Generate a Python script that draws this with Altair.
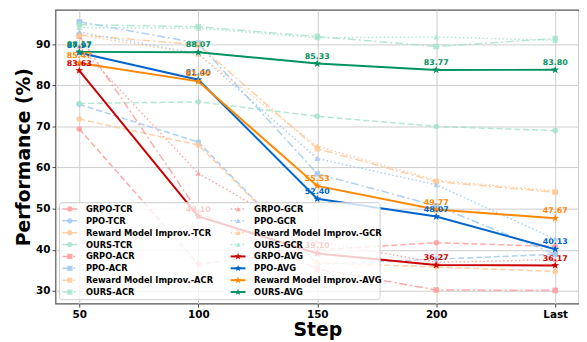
import math
import altair as alt
import pandas as pd

steps = ["50", "100", "150", "200", "Last"]
methods = ["GRPO", "PPO", "Reward Model Improv.", "OURS"]
metrics = ["TCR", "ACR", "GCR", "AVG"]

grpo_tcr = [69.4, 36.5, 40.0, 41.7, 40.8]
grpo_acr = [92.0, 49.2, 35.3, 30.2, 30.1]
grpo_gcr = [89.5, 58.6, 42.0, 36.9, 37.6]
grpo_avg = [83.63, 48.10, 39.10, 36.27, 36.17]

ppo_tcr = [75.4, 66.2, 36.5, 37.7, 38.9]
ppo_acr = [95.5, 90.3, 58.5, 50.7, 38.9]
ppo_gcr = [93.0, 87.7, 62.2, 55.8, 42.6]
ppo_avg = [87.97, 81.40, 52.40, 48.07, 40.13]

rm_tcr = [71.8, 65.5, 36.8, 35.8, 34.7]
rm_acr = [92.3, 89.9, 64.6, 56.6, 54.0]
rm_gcr = [92.3, 87.6, 65.2, 56.9, 54.3]
rm_avg = [85.47, 81.00, 55.53, 49.77, 47.67]

ours_tcr = [75.6, 76.0, 72.5, 70.0, 69.0]
ours_acr = [94.8, 94.3, 91.9, 89.5, 91.4]
ours_gcr = [94.1, 93.9, 91.6, 91.8, 91.0]
ours_avg = [88.17, 88.07, 85.33, 83.77, 83.80]

values = {
    "GRPO": {"TCR": grpo_tcr, "ACR": grpo_acr, "GCR": grpo_gcr, "AVG": grpo_avg},
    "PPO": {"TCR": ppo_tcr, "ACR": ppo_acr, "GCR": ppo_gcr, "AVG": ppo_avg},
    "Reward Model Improv.": {"TCR": rm_tcr, "ACR": rm_acr, "GCR": rm_gcr, "AVG": rm_avg},
    "OURS": {"TCR": ours_tcr, "ACR": ours_acr, "GCR": ours_gcr, "AVG": ours_avg},
}

# five-point star symbol as an SVG path in the unit box
_pts = []
for j in range(10):
    ang = math.radians(-90 + 36 * j)
    r = 1.0 if j % 2 == 0 else 0.4
    _pts.append(f"{r * math.cos(ang):.3f},{r * math.sin(ang):.3f}")
STAR = "M" + "L".join(_pts) + "Z"

light_colors = {"GRPO": "#ff9a9a", "PPO": "#9fc8f2", "Reward Model Improv.": "#ffc896", "OURS": "#a6e3cb"}
dark_colors = {"GRPO": "#cc0000", "PPO": "#0066cc", "Reward Model Improv.": "#ff8800", "OURS": "#00935f"}
dash_by_metric = {"TCR": [6, 3], "ACR": [8, 3, 2, 3], "GCR": [1.5, 2.5]}
shape_by_metric = {"TCR": "circle", "ACR": "square", "GCR": "triangle-up", "AVG": STAR}

series_order = [f"{m}-{k}" for k in metrics for m in methods]
color_range = [dark_colors[m] if k == "AVG" else light_colors[m] for k in metrics for m in methods]
shape_range = [shape_by_metric[k] for k in metrics for m in methods]

FONT = "DejaVu Sans"
W, H = 529, 297
XD = [-0.2, 4.2]
YD = [26.87, 98.43]

rows = []
for k in metrics:
    for m in methods:
        for i, v in enumerate(values[m][k]):
            rows.append({"series": f"{m}-{k}", "metric": k, "xi": i, "value": v,
                         "label": f"{v:.2f}"})
df = pd.DataFrame(rows)

color = alt.Color("series:N", scale=alt.Scale(domain=series_order, range=color_range), legend=None)
shape = alt.Shape("series:N", scale=alt.Scale(domain=series_order, range=shape_range), legend=None)

label_expr = "[" + ",".join(f"'{s}'" for s in steps) + "][datum.value]"
xscale = alt.Scale(domain=XD, nice=False, zero=False)
yscale = alt.Scale(domain=YD, nice=False, zero=False)

x_enc = alt.X("xi:Q", scale=xscale,
              axis=alt.Axis(title="Step", values=[0, 1, 2, 3, 4], labelExpr=label_expr,
                            labelAngle=0, titleX=W / 2, titleY=32, titleBaseline="alphabetic"))
y_enc = alt.Y("value:Q", scale=yscale,
              axis=alt.Axis(title="Performance (%)", values=[30, 40, 50, 60, 70, 80, 90],
                            titleX=-32, titleY=148.5, titleAngle=-90, titleAlign="center",
                            titleBaseline="middle"))

base = alt.Chart(df).encode(x=x_enc, y=y_enc)

layers = []
for k in ["TCR", "ACR", "GCR"]:
    layers.append(base.transform_filter(f"datum.metric == '{k}'").mark_line(
        strokeWidth=1.5, opacity=0.85, strokeDash=dash_by_metric[k]).encode(color=color, detail="series:N"))
light = base.transform_filter("datum.metric != 'AVG'")
avg = base.transform_filter("datum.metric == 'AVG'")
layers.append(light.mark_point(filled=True, size=32, opacity=0.85).encode(color=color, shape=shape))
layers.append(avg.mark_line(strokeWidth=2).encode(color=color, detail="series:N"))
layers.append(avg.mark_point(filled=True, size=70, opacity=1).encode(color=color, shape=shape))
layers.append(avg.mark_text(dy=-5, baseline="alphabetic", fontSize=8, fontWeight="bold",
                            font=FONT).encode(text="label:N", color=color))


# legend layout: pixel positions inside the plot area converted to data units
def px_x(p):
    return XD[0] + p / W * (XD[1] - XD[0])


def px_y(p):
    return YD[1] - p / H * (YD[1] - YD[0])


leg_rows = []
col_x = [7, 177]
for i, s in enumerate(series_order):
    c, r = i // 8, i % 8
    x0 = col_x[c]
    k = s.split("-")[-1]
    leg_rows.append({"series": s, "metric": k, "lx1": px_x(x0), "lx2": px_x(x0 + 15),
                     "lxm": px_x(x0 + 7.5), "ltx": px_x(x0 + 23.7), "ly": px_y(201.3 + 12 * r)})
leg_df = pd.DataFrame(leg_rows)

box = pd.DataFrame({"bx": [px_x(4)], "bx2": [px_x(328)], "by": [px_y(195)], "by2": [px_y(293)]})
layers.append(alt.Chart(box).mark_rect(
    fill="white", fillOpacity=0.8, stroke="#cccccc", strokeWidth=1, cornerRadius=3
).encode(x=alt.X("bx:Q", scale=xscale), x2="bx2:Q", y=alt.Y("by:Q", scale=yscale), y2="by2:Q"))

leg = alt.Chart(leg_df)
for k in metrics:
    props = dict(strokeWidth=2, opacity=1) if k == "AVG" else dict(
        strokeWidth=1.5, opacity=0.85, strokeDash=dash_by_metric[k])
    layers.append(leg.transform_filter(f"datum.metric == '{k}'").mark_rule(**props).encode(
        x=alt.X("lx1:Q", scale=xscale), x2="lx2:Q", y=alt.Y("ly:Q", scale=yscale), color=color))
layers.append(leg.transform_filter("datum.metric != 'AVG'").mark_point(
    filled=True, size=28, opacity=0.85).encode(
    x=alt.X("lxm:Q", scale=xscale), y=alt.Y("ly:Q", scale=yscale), color=color, shape=shape))
layers.append(leg.transform_filter("datum.metric == 'AVG'").mark_point(
    filled=True, size=55, opacity=1).encode(
    x=alt.X("lxm:Q", scale=xscale), y=alt.Y("ly:Q", scale=yscale), color=color, shape=shape))
layers.append(leg.mark_text(align="left", baseline="middle", fontSize=8.4, fontWeight="bold",
                            font=FONT, color="black").encode(
    x=alt.X("ltx:Q", scale=xscale), y=alt.Y("ly:Q", scale=yscale), text="series:N"))

chart = alt.layer(*layers).properties(
    width=W, height=H, autosize=alt.AutoSizeParams(type="none"),
    padding={"left": 48, "top": 0, "right": 0, "bottom": 37}
).configure_view(
    stroke="#555555", strokeWidth=1.2
).configure_axis(
    labelFont=FONT, labelFontWeight="bold", labelFontSize=10.5, labelColor="black",
    tickColor="#444444", tickSize=3.5, labelPadding=2, domain=False,
    grid=True, gridColor="#cccccc", gridWidth=1,
    titleFont=FONT, titleFontWeight="bold", titleFontSize=19, titleColor="black"
)

chart.save("out.html", embed_options={"renderer": "svg", "actions": False})
